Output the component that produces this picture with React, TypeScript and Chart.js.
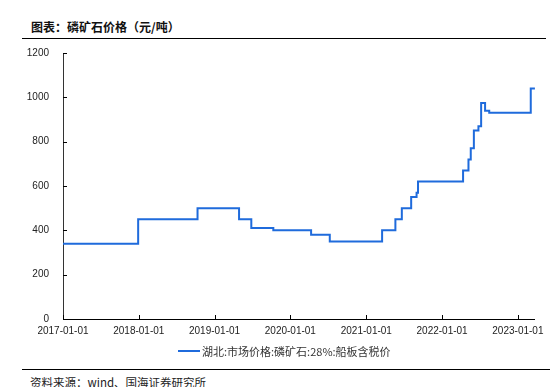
import React, { useEffect, useRef } from "react";
import { Chart, registerables } from "chart.js";

Chart.register(...registerables);

const dates = [
  "2017-01-01", "2017-12-29", "2018-10-11", "2019-04-29", "2019-06-27",
  "2019-10-11", "2020-04-10", "2020-07-09", "2021-03-18", "2021-05-21",
  "2021-06-21", "2021-08-05", "2021-08-31", "2021-09-07", "2022-04-12",
  "2022-05-08", "2022-05-19", "2022-06-03", "2022-06-25", "2022-07-08",
  "2022-07-27", "2022-08-16", "2023-03-04", "2023-03-24",
];
const prices = [
  340, 450, 500, 450, 410,
  400, 380, 350, 400, 450,
  500, 550, 570, 620, 670,
  720, 770, 850, 870, 975,
  940, 930, 1040, 1040,
];
const xTickLabels = [
  "2017-01-01", "2018-01-01", "2019-01-01", "2020-01-01",
  "2021-01-01", "2022-01-01", "2023-01-01",
];
const yTicks = [0, 200, 400, 600, 800, 1000, 1200];
const seriesName = "湖北:市场价格:磷矿石:28%:船板含税价";
const titleText = "图表：磷矿石价格（元/吨）";
const sourceText = "资料来源：wind、国海证券研究所";

const DAY = 86400000;
const origin = Date.UTC(2017, 0, 1);
const toDay = (s: string) => {
  const [y, m, d] = s.split("-").map(Number);
  return (Date.UTC(y, m - 1, d) - origin) / DAY;
};

const LINE_COLOR = "#1f6bdc";

const innerTicks = {
  id: "innerTicks",
  afterDraw(chart: any) {
    const { ctx, chartArea, scales } = chart;
    const x = scales.x;
    const y = scales.y;
    ctx.save();
    ctx.strokeStyle = "#000";
    ctx.lineWidth = 1;
    ctx.beginPath();
    y.ticks.forEach((t: any) => {
      const py = Math.round(y.getPixelForValue(t.value)) + 0.5;
      ctx.moveTo(chartArea.left, py);
      ctx.lineTo(chartArea.left + 4, py);
    });
    x.ticks.forEach((t: any) => {
      const px = Math.round(x.getPixelForValue(t.value)) + 0.5;
      ctx.moveTo(px, chartArea.bottom);
      ctx.lineTo(px, chartArea.bottom - 4);
    });
    ctx.stroke();
    ctx.restore();
  },
};

export default function App() {
  const ref = useRef<HTMLCanvasElement>(null);

  useEffect(() => {
    document.body.style.margin = "0";
    const canvas = ref.current;
    if (!canvas) return;
    const points = dates.map((d, i) => ({ x: toDay(d), y: prices[i] }));
    const tickFont = { family: "'Liberation Sans', Arial, sans-serif", size: 10 };
    const chart = new Chart(canvas, {
      type: "line",
      data: {
        datasets: [
          {
            label: seriesName,
            data: points,
            borderColor: LINE_COLOR,
            backgroundColor: LINE_COLOR,
            borderWidth: 2,
            pointRadius: 0,
            stepped: true,
            fill: false,
          },
        ],
      },
      options: {
        animation: false,
        responsive: false,
        maintainAspectRatio: false,
        layout: { padding: { left: 0, right: 15, top: 0, bottom: 0 } },
        plugins: {
          legend: { display: false },
          tooltip: { enabled: false },
          title: { display: false },
        },
        scales: {
          x: {
            type: "linear",
            min: 0,
            max: toDay(dates[dates.length - 1]),
            afterBuildTicks: (s: any) => {
              s.ticks = xTickLabels.map((l) => ({ value: toDay(l) }));
            },
            afterFit: (s: any) => {
              s.height = 26;
            },
            ticks: {
              autoSkip: false,
              maxRotation: 0,
              padding: 6,
              color: "#222",
              font: tickFont,
              callback: (v: any) => {
                const idx = xTickLabels.findIndex((l) => toDay(l) === v);
                return idx >= 0 ? xTickLabels[idx] : "";
              },
            },
            grid: { drawOnChartArea: false, drawTicks: false },
            border: { display: true, color: "#000", width: 1 },
          },
          y: {
            min: 0,
            max: 1200,
            afterBuildTicks: (s: any) => {
              s.ticks = yTicks.map((v) => ({ value: v }));
            },
            afterFit: (s: any) => {
              s.width = 63;
            },
            ticks: {
              padding: 14,
              color: "#222",
              font: tickFont,
              callback: (v: any) => String(v),
            },
            grid: { drawOnChartArea: false, drawTicks: false },
            border: { display: true, color: "#333", width: 1 },
          },
        },
      },
      plugins: [innerTicks],
    });
    return () => chart.destroy();
  }, []);

  const cjk = "'Noto Sans CJK SC', 'Noto Sans', sans-serif";

  return (
    <div style={{ position: "relative", width: 550, height: 387, background: "#fff", overflow: "hidden" }}>
      <div
        style={{
          position: "absolute",
          left: 31,
          top: 19,
          fontFamily: cjk,
          fontWeight: 700,
          fontSize: 12,
          lineHeight: "16px",
          color: "#111",
          whiteSpace: "nowrap",
        }}
      >
        {titleText}
      </div>
      <div style={{ position: "absolute", left: 22, top: 37.5, width: 524, height: 1.5, background: "#000" }} />
      <canvas ref={ref} width={550} height={312} style={{ position: "absolute", left: 0, top: 33, width: 550, height: 312 }} />
      <div
        style={{
          position: "absolute",
          left: 178,
          top: 343,
          height: 16,
          display: "flex",
          alignItems: "center",
          whiteSpace: "nowrap",
        }}
      >
        <span style={{ display: "inline-block", width: 22, height: 2, background: LINE_COLOR, marginRight: 2 }} />
        <span style={{ fontFamily: cjk, fontSize: 11, color: "#333", lineHeight: "16px" }}>{seriesName}</span>
      </div>
      <div style={{ position: "absolute", left: 22, top: 368.5, width: 528, height: 1.5, background: "#000" }} />
      <div
        style={{
          position: "absolute",
          left: 30,
          top: 374,
          fontFamily: cjk,
          fontSize: 11.5,
          lineHeight: "16px",
          color: "#222",
          whiteSpace: "nowrap",
        }}
      >
        {sourceText}
      </div>
    </div>
  );
}
